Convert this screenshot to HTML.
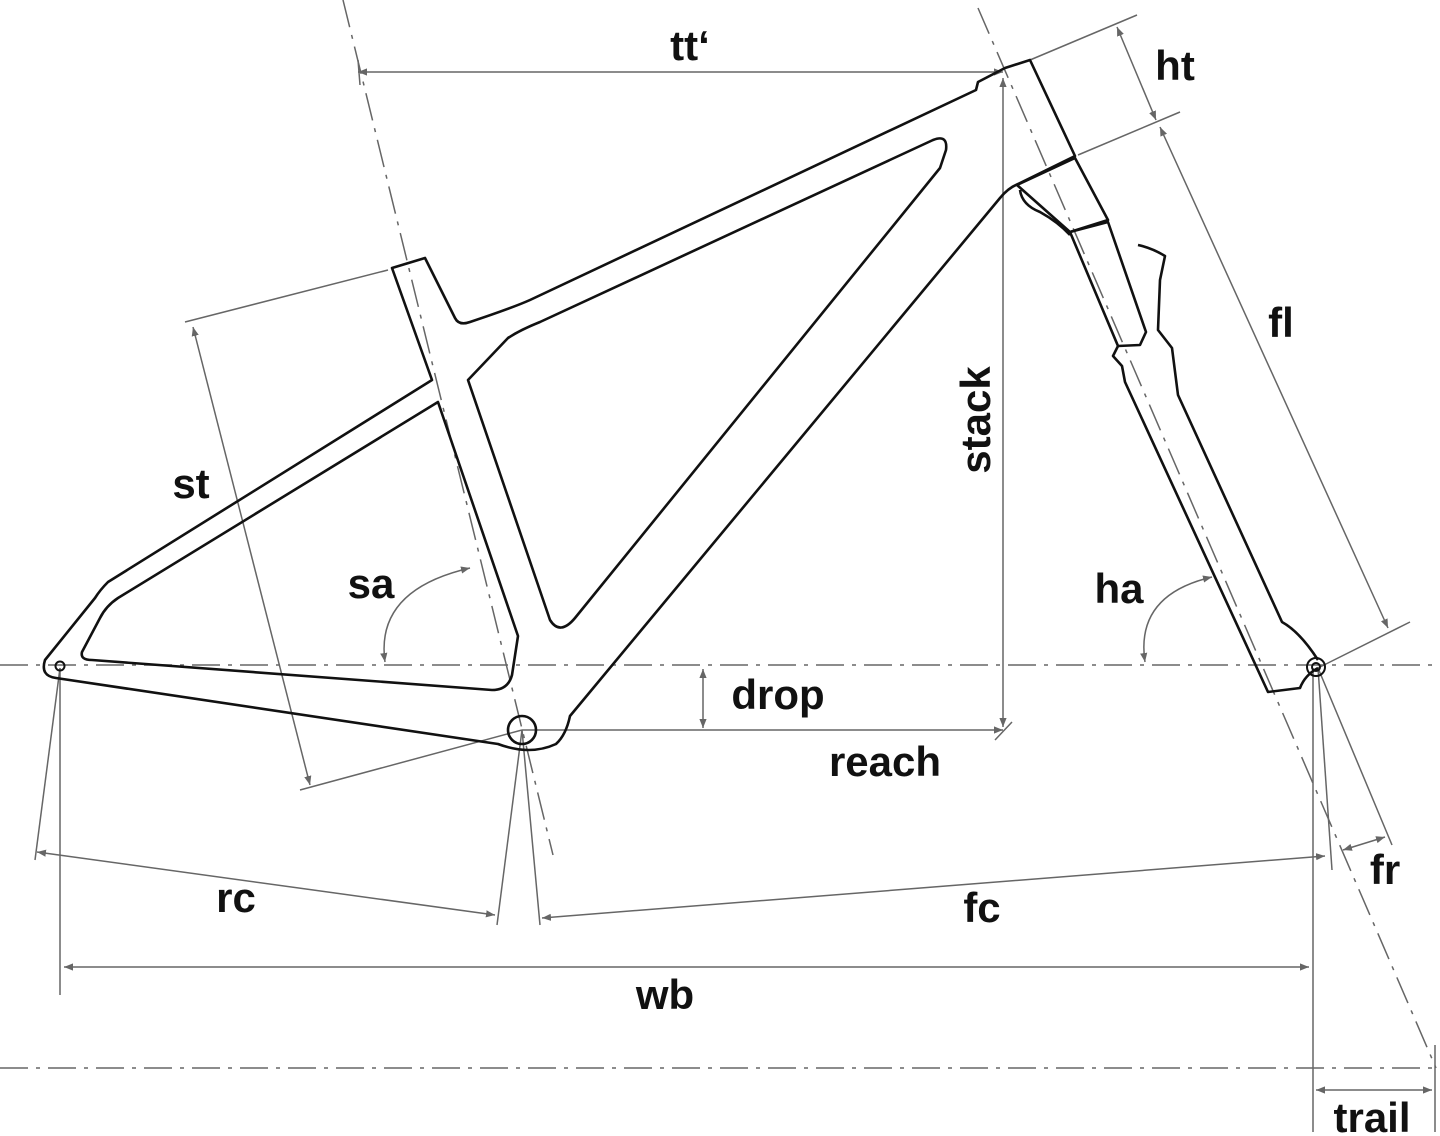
<!DOCTYPE html>
<html><head><meta charset="utf-8"><style>
html,body{margin:0;padding:0;background:#fff;}
svg{display:block;}
text{font-family:"Liberation Sans",Arial,sans-serif;font-weight:bold;font-size:42px;fill:#111;}
</style></head><body>
<svg width="1440" height="1136" viewBox="0 0 1440 1136" xmlns="http://www.w3.org/2000/svg">
<defs>
<marker id="a" viewBox="0 0 10 10" refX="10" refY="5" markerWidth="9" markerHeight="9" orient="auto-start-reverse" markerUnits="userSpaceOnUse">
<path d="M0,1 L10,5 L0,9 z" fill="#666"/></marker>
</defs>
<!-- dash-dot axes -->
<g stroke="#666" stroke-width="1.5" fill="none" stroke-dasharray="28,8,4,8">
<line x1="0" y1="665" x2="1440" y2="665"/>
<line x1="0" y1="1068" x2="1440" y2="1068"/>
<line x1="343" y1="0" x2="553" y2="855"/>
<line x1="978" y1="8" x2="1436" y2="1068"/>
</g>
<!-- dimension lines -->
<g stroke="#666" stroke-width="1.5" fill="none">
<line x1="358" y1="72" x2="1003" y2="72" marker-start="url(#a)" marker-end="url(#a)"/>
<line x1="358" y1="60" x2="360" y2="85"/>
<line x1="1030" y1="60" x2="1137" y2="15"/>
<line x1="1078" y1="155" x2="1180" y2="112"/>
<line x1="1117" y1="27" x2="1156" y2="120" marker-start="url(#a)" marker-end="url(#a)"/>
<line x1="1160" y1="127" x2="1388" y2="628" marker-start="url(#a)" marker-end="url(#a)"/>
<line x1="1318" y1="668" x2="1410" y2="622"/>
<line x1="1003" y1="78" x2="1003" y2="727" marker-start="url(#a)" marker-end="url(#a)"/>
<line x1="522" y1="730" x2="1003" y2="730" marker-end="url(#a)"/>
<line x1="995" y1="740" x2="1012" y2="722"/>
<line x1="703" y1="669" x2="703" y2="728" marker-start="url(#a)" marker-end="url(#a)"/>
<line x1="185" y1="322" x2="388" y2="270"/>
<line x1="300" y1="790" x2="522" y2="730"/>
<line x1="193" y1="327" x2="310" y2="785" marker-start="url(#a)" marker-end="url(#a)"/>
<path d="M385,662 Q375,590 470,568" marker-start="url(#a)" marker-end="url(#a)"/>
<path d="M1145,662 Q1135,595 1212,577" marker-start="url(#a)" marker-end="url(#a)"/>
<line x1="60" y1="668" x2="35" y2="860"/>
<line x1="522" y1="730" x2="497" y2="925"/>
<line x1="522" y1="730" x2="540" y2="925"/>
<line x1="37" y1="852" x2="495" y2="915" marker-start="url(#a)" marker-end="url(#a)"/>
<line x1="542" y1="918" x2="1325" y2="856" marker-start="url(#a)" marker-end="url(#a)"/>
<line x1="1318" y1="668" x2="1332" y2="870"/>
<line x1="1318" y1="668" x2="1392" y2="845"/>
<line x1="1343" y1="850" x2="1385" y2="837" marker-start="url(#a)" marker-end="url(#a)"/>
<line x1="60" y1="668" x2="60" y2="995"/>
<line x1="1313" y1="668" x2="1313" y2="1132"/>
<line x1="64" y1="967" x2="1309" y2="967" marker-start="url(#a)" marker-end="url(#a)"/>
<line x1="1435" y1="1045" x2="1435" y2="1132"/>
<line x1="1316" y1="1090" x2="1432" y2="1090" marker-start="url(#a)" marker-end="url(#a)"/>
</g>
<!-- frame -->
<g stroke="#111" stroke-width="2.6" fill="none" stroke-linejoin="round">
<path d="M45,660 Q40,676 56,678 L498,744 Q530,756 556,744 Q566,735 570,716 L1000,198 Q1008,188 1018,184 L1075,156 L1030,60 L1005,68 L978,82 L976,90 L530,300 Q512,308 470,322 Q459,326 455,318 L425,258 L392,268 L432,380 L108,582 Q100,590 95,598 Z"/>
<path d="M468,380 L508,338 Q520,330 540,322 L933,140 Q948,134 946,150 L940,168 L575,618 Q560,636 550,620 Z"/>
<path d="M438,402 L118,598 Q106,606 100,618 L82,652 Q80,660 92,660 L492,690 Q508,690 512,675 L518,636 Z"/>
<circle cx="522" cy="730" r="14"/>
<!-- fork -->
<path d="M1017,185 L1075,158 L1108,220 L1070,232 Z"/>
<path d="M1070,232 L1108,222 L1146,332 L1140,345 L1118,346 Z"/>
<path d="M1020,190 Q1022,205 1040,212 Q1058,222 1070,235"/>
<path d="M1118,346 L1113,356 L1122,366 L1125,382 L1268,692 L1300,688 Q1305,675 1318,668"/>
<path d="M1138,245 Q1152,248 1165,256 L1160,280 L1158,330 L1172,348 L1178,395 L1282,622 Q1300,632 1318,660"/>
<circle cx="60" cy="666" r="4.5" stroke-width="2"/>
<circle cx="1316" cy="667" r="9" stroke-width="2"/>
<circle cx="1316" cy="667" r="4" stroke-width="2"/>
</g>
<!-- labels -->
<text x="690" y="60" text-anchor="middle">tt‘</text>
<text x="1175" y="80" text-anchor="middle">ht</text>
<text x="1281" y="337" text-anchor="middle">fl</text>
<text transform="translate(990,420) rotate(-90)" text-anchor="middle">stack</text>
<text x="191" y="498" text-anchor="middle">st</text>
<text x="371" y="598" text-anchor="middle">sa</text>
<text x="1119" y="603" text-anchor="middle">ha</text>
<text x="778" y="709" text-anchor="middle">drop</text>
<text x="885" y="776" text-anchor="middle">reach</text>
<text x="236" y="912" text-anchor="middle">rc</text>
<text x="982" y="922" text-anchor="middle">fc</text>
<text x="1385" y="884" text-anchor="middle">fr</text>
<text x="665" y="1009" text-anchor="middle">wb</text>
<text x="1372" y="1132" text-anchor="middle">trail</text>
</svg>
</body></html>
